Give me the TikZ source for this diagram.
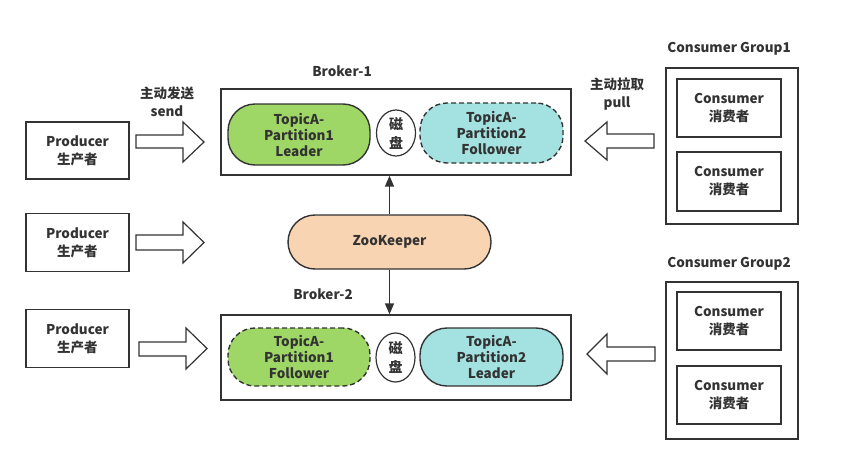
\documentclass[tikz,border=0pt]{standalone}
\usepackage{fontspec}
\setmainfont{Noto Sans CJK SC}
\usetikzlibrary{shapes.geometric,arrows.meta}
\definecolor{ln}{HTML}{333333}
\definecolor{txt}{HTML}{333333}
\definecolor{grn}{HTML}{9ED766}
\definecolor{cyn}{HTML}{A3E2E1}
\definecolor{pch}{HTML}{F8D4B2}
\tikzset{
  every node/.style={font=\bfseries\fontsize{13.5}{18}\selectfont, text=txt},
  plainbox/.style={draw=ln, line width=1.4pt, fill=white, inner sep=0pt, align=center},
  pill/.style={draw=ln, line width=1.4pt, rounded corners=27pt, inner sep=0pt, align=center, font=\bfseries\fontsize{13.5}{16}\selectfont},
  dashline/.style={dash pattern=on 5pt off 3pt},
  disk/.style={draw=ln, line width=1.2pt, ellipse, fill=white, inner sep=0pt, align=center, font=\bfseries\fontsize{14}{19}\selectfont},
  hollow/.style={draw=ln, line width=1.2pt, fill=white, line join=miter},
  lbl/.style={align=center, inner sep=0pt},
  zkarrow/.style={draw=ln, line width=1.5pt, -{Triangle[length=11pt,width=9pt]}}
}
\begin{document}
\begin{tikzpicture}[x=1pt,y=-1pt]
\useasboundingbox (0,0) rectangle (849,466);

% Brokers
\node[plainbox, minimum width=350, minimum height=86] (b1) at (396,132) {};
\node[lbl] (b1l) at (342,71) {Broker-1};
\node[pill, fill=grn, minimum width=142, minimum height=61] (p11) at (299,134.5) {TopicA-\\Partition1\\Leader};
\node[disk, minimum width=39, minimum height=46] (d1) at (396,133) {磁\\盘};
\node[pill, fill=cyn, dashline, minimum width=143, minimum height=60] (p12) at (491.5,133) {TopicA-\\Partition2\\Follower};

\node[plainbox, minimum width=350, minimum height=85] (b2) at (396,357.5) {};
\node[lbl] (b2l) at (323,294) {Broker-2};
\node[pill, fill=grn, dashline, minimum width=142, minimum height=58] (p21) at (299,357) {TopicA-\\Partition1\\Follower};
\node[disk, minimum width=39, minimum height=49] (d2) at (395.5,357.5) {磁\\盘};
\node[pill, fill=cyn, minimum width=143, minimum height=58] (p22) at (491.5,357) {TopicA-\\Partition2\\Leader};

% ZooKeeper
\node[pill, fill=pch, minimum width=203, minimum height=54] (zk) at (389.5,242) {ZooKeeper};
\draw[zkarrow] (zk.north) -- (zk.north |- b1.south);
\draw[zkarrow] (zk.south) -- (zk.south |- b2.north);

% Producers
\node[plainbox, minimum width=103, minimum height=57] (pr1) at (77.5,150.5) {Producer\\生产者};
\node[plainbox, minimum width=103, minimum height=58] (pr2) at (77.5,242.5) {Producer\\生产者};
\node[plainbox, minimum width=103, minimum height=58] (pr3) at (77.5,338.5) {Producer\\生产者};
\node[lbl] (sendl) at (167,101.5) {主动发送\\send};

\draw[hollow] (136,135) -- (183,135) -- (183,122) -- (204,142) -- (183,162) -- (183,148) -- (136,148) -- cycle;
\draw[hollow] (136,235) -- (183,235) -- (183,222) -- (204,242.5) -- (183,263) -- (183,250) -- (136,250) -- cycle;
\draw[hollow] (139,342) -- (186,342) -- (186,328) -- (207,348.5) -- (186,369) -- (186,356) -- (139,356) -- cycle;

% Consumer groups
\node[lbl] (g1l) at (729,49) {Consumer Group1};
\node[plainbox, minimum width=132, minimum height=156] (g1) at (732,146) {};
\node[plainbox, minimum width=104, minimum height=58] (c11) at (729,108) {Consumer\\消费者};
\node[plainbox, minimum width=104, minimum height=59] (c12) at (729,181.5) {Consumer\\消费者};
\node[lbl] (pulll) at (617,94) {主动拉取\\pull};
\draw[hollow] (654,134) -- (607,134) -- (607,122) -- (585,141) -- (607,160) -- (607,148) -- (654,148) -- cycle;

\node[lbl] (g2l) at (729,264) {Consumer Group2};
\node[plainbox, minimum width=132, minimum height=157] (g2) at (732,360.5) {};
\node[plainbox, minimum width=104, minimum height=58] (c21) at (729,321) {Consumer\\消费者};
\node[plainbox, minimum width=104, minimum height=58] (c22) at (729,395) {Consumer\\消费者};
\draw[hollow] (655,347) -- (607,347) -- (607,334) -- (587,354) -- (607,374) -- (607,361) -- (655,361) -- cycle;
\end{tikzpicture}
\end{document}
